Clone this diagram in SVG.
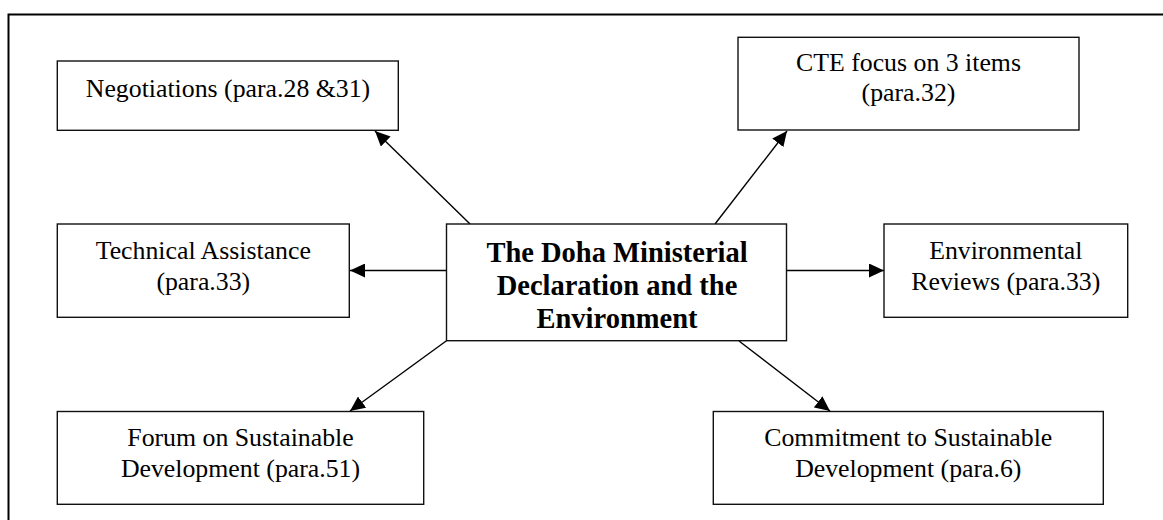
<svg xmlns="http://www.w3.org/2000/svg" width="1163" height="520" viewBox="0 0 1163 520">
<defs>
<style>
.box{fill:#fff;stroke:#111;stroke-width:1.4}
.t{font-family:"Liberation Serif","Times New Roman",serif;font-size:25.8px;fill:#000;text-anchor:middle}
.b{font-family:"Liberation Serif","Times New Roman",serif;font-size:28.5px;font-weight:bold;fill:#000;text-anchor:middle}
.c{stroke:#000;stroke-width:1.4;fill:none;marker-end:url(#ah)}
</style>
<marker id="ah" markerUnits="userSpaceOnUse" markerWidth="16" markerHeight="14" refX="15" refY="7" orient="auto">
<path d="M0,0 L15,7 L0,14 Z" fill="#000"/>
</marker>
</defs>
<rect width="1163" height="520" fill="#fff"/>
<path d="M8.5,530 V14.5 H1175" fill="none" stroke="#000" stroke-width="2"/>
<g id="connectors">
<line class="c" x1="470" y1="224" x2="375" y2="131"/>
<line class="c" x1="715" y1="224" x2="787" y2="131"/>
<line class="c" x1="446.5" y1="270.5" x2="350" y2="270.5"/>
<line class="c" x1="786.5" y1="270.5" x2="884" y2="270.5"/>
<line class="c" x1="446.5" y1="340.7" x2="350" y2="411"/>
<line class="c" x1="739" y1="341" x2="830" y2="411"/>
</g>
<g id="center">
<rect class="box" x="446.5" y="224" width="340" height="116.7"/>
<text class="b" x="617" y="262.3">The Doha Ministerial</text>
<text class="b" x="617" y="295">Declaration and the</text>
<text class="b" x="617" y="327.7">Environment</text>
</g>
<g id="negotiations">
<rect class="box" x="57.3" y="61" width="341" height="69.3"/>
<text class="t" x="228" y="96.7">Negotiations (para.28 &amp;31)</text>
</g>
<g id="cte">
<rect class="box" x="738" y="37.3" width="341" height="92.7"/>
<text class="t" x="908.5" y="71">CTE focus on 3 items</text>
<text class="t" x="908.5" y="101">(para.32)</text>
</g>
<g id="technical">
<rect class="box" x="57.3" y="224" width="292" height="93.3"/>
<text class="t" x="203.3" y="259">Technical Assistance</text>
<text class="t" x="203.3" y="290">(para.33)</text>
</g>
<g id="environmental">
<rect class="box" x="884" y="224" width="243.7" height="93.3"/>
<text class="t" x="1005.8" y="259.3">Environmental</text>
<text class="t" x="1005.8" y="290">Reviews (para.33)</text>
</g>
<g id="forum">
<rect class="box" x="57.3" y="411.5" width="366.4" height="92.8"/>
<text class="t" x="240.5" y="446">Forum on Sustainable</text>
<text class="t" x="240.5" y="476.7">Development (para.51)</text>
</g>
<g id="commitment">
<rect class="box" x="713.3" y="411.5" width="390" height="92.8"/>
<text class="t" x="908.3" y="446">Commitment to Sustainable</text>
<text class="t" x="908.3" y="476.7">Development (para.6)</text>
</g>
</svg>
